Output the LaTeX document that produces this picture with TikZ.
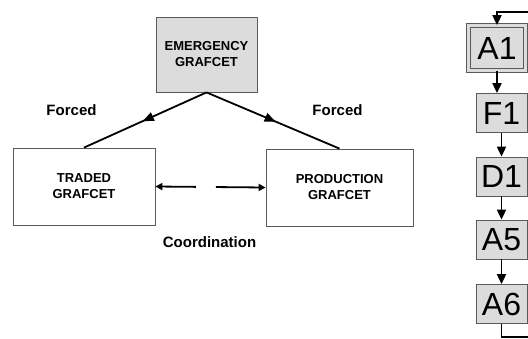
\documentclass[tikz,border=0pt]{standalone}
\usepackage{fontspec}
\setmainfont{Liberation Sans}
\usetikzlibrary{arrows.meta,decorations.markings}
\definecolor{boxgray}{HTML}{DCDCDC}
\definecolor{edgegray}{HTML}{5A5A5A}
\tikzset{
  grafcet/.style={draw=edgegray,line width=0.8pt,align=center,inner sep=0pt,font=\bfseries\fontsize{13}{16}\selectfont},
  stepbox/.style={draw=edgegray,fill=boxgray,line width=0.8pt,minimum width=51pt,minimum height=39pt,inner sep=0pt,font=\fontsize{32}{32}\selectfont},
  flow/.style={line width=1.9pt,-{Triangle[length=10pt,width=9pt]}},
  forced/.style={line width=1.8pt,postaction={decorate},decoration={markings,mark=at position 0.52 with {\arrow{Triangle[length=11pt,width=9pt]}}}},
  lbl/.style={font=\bfseries\fontsize{15}{17}\selectfont,anchor=base}
}

\begin{document}
\begin{tikzpicture}[x=1pt,y=-1pt]
\useasboundingbox (0,0) rectangle (528,338);

\node[grafcet,fill=boxgray,minimum width=101pt,minimum height=75pt] (em) at (206.5,54.5) {EMERGENCY\\GRAFCET};
\node[grafcet,minimum width=142pt,minimum height=77pt] (tr) at (84,186.5) {TRADED\\GRAFCET};
\node[grafcet,minimum width=147pt,minimum height=77pt] (pr) at (339.5,187.5) {PRODUCTION\\GRAFCET};

\node[lbl] (fl) at (71.5,115) {Forced};
\node[lbl] (fr) at (337.5,115) {Forced};
\node[lbl] (co) at (209.5,247) {Coordination};

\draw[forced] (em.south) -- (tr.north);
\draw[forced] (em.south) -- (pr.north);
\draw[line width=1.8pt,{Triangle[length=7pt,width=7pt]}-{Triangle[length=7pt,width=7pt]},dash pattern=on 34pt off 20pt on 60pt] (tr.east) -- (pr.west);

\node[stepbox,double=boxgray,double distance=2.5pt,minimum width=57pt,minimum height=45pt] (a1) at (497,48) {A1};
\node[stepbox] (f1) at (501.5,113) {F1};
\node[stepbox] (d1) at (501.5,176.5) {D1};
\node[stepbox] (a5) at (501.5,239.5) {A5};
\node[stepbox] (a6) at (501.5,304) {A6};

\coordinate (in) at (528,12);
\coordinate (out) at (528,337);

\draw[flow] (in) -| (a1.north);
\draw[flow] (a1.south) -- (a1.south |- f1.north);
\draw[flow] (f1) -- (d1);
\draw[flow] (d1) -- (a5);
\draw[flow] (a5) -- (a6);
\draw[line width=1.9pt] (a6.south) |- (out);

\end{tikzpicture}
\end{document}
